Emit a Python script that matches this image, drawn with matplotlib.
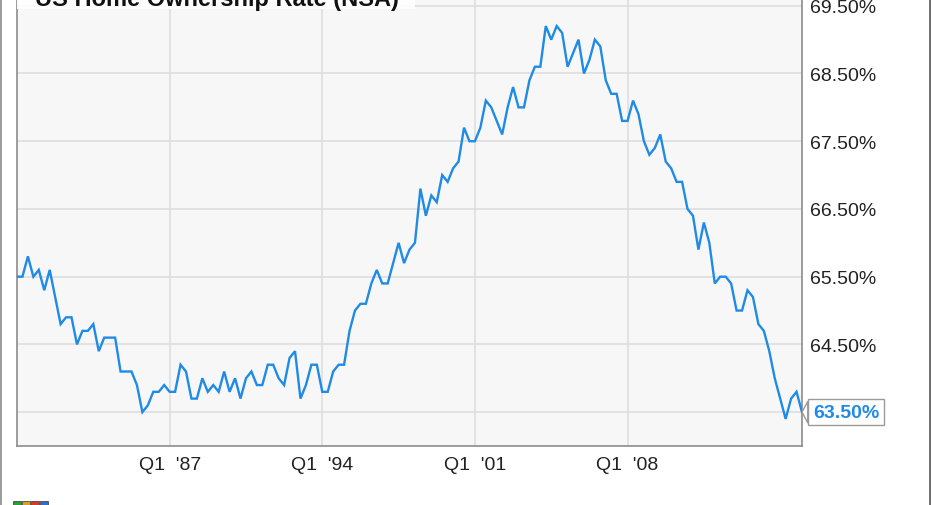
import matplotlib
matplotlib.use("Agg")
import matplotlib.pyplot as plt
import numpy as np
from matplotlib.lines import Line2D
from matplotlib.patches import Rectangle

plt.rcParams['font.family'] = ['Liberation Sans', 'DejaVu Sans']

# US home ownership rate, quarterly, 1980 Q1 .. 2016 Q1
start_year = 1980
rate = [65.5, 65.5, 65.8, 65.5,  65.6, 65.3, 65.6, 65.2,  64.8, 64.9, 64.9, 64.5,
        64.7, 64.7, 64.8, 64.4,  64.6, 64.6, 64.6, 64.1,  64.1, 64.1, 63.9, 63.5,
        63.6, 63.8, 63.8, 63.9,  63.8, 63.8, 64.2, 64.1,  63.7, 63.7, 64.0, 63.8,
        63.9, 63.8, 64.1, 63.8,  64.0, 63.7, 64.0, 64.1,  63.9, 63.9, 64.2, 64.2,
        64.0, 63.9, 64.3, 64.4,  63.7, 63.9, 64.2, 64.2,  63.8, 63.8, 64.1, 64.2,
        64.2, 64.7, 65.0, 65.1,  65.1, 65.4, 65.6, 65.4,  65.4, 65.7, 66.0, 65.7,
        65.9, 66.0, 66.8, 66.4,  66.7, 66.6, 67.0, 66.9,  67.1, 67.2, 67.7, 67.5,
        67.5, 67.7, 68.1, 68.0,  67.8, 67.6, 68.0, 68.3,  68.0, 68.0, 68.4, 68.6,
        68.6, 69.2, 69.0, 69.2,  69.1, 68.6, 68.8, 69.0,  68.5, 68.7, 69.0, 68.9,
        68.4, 68.2, 68.2, 67.8,  67.8, 68.1, 67.9, 67.5,  67.3, 67.4, 67.6, 67.2,
        67.1, 66.9, 66.9, 66.5,  66.4, 65.9, 66.3, 66.0,  65.4, 65.5, 65.5, 65.4,
        65.0, 65.0, 65.3, 65.2,  64.8, 64.7, 64.4, 64.0,  63.7, 63.4, 63.7, 63.8,
        63.5]
x_ticks = [1987, 1994, 2001, 2008]
x_ticklabels = ["Q1  '87", "Q1  '94", "Q1  '01", "Q1  '08"]
y_ticks = [63.5, 64.5, 65.5, 66.5, 67.5, 68.5, 69.5]
title = "US Home Ownership Rate (NSA)"

t = start_year + np.arange(len(rate)) / 4.0
blue = '#1f8be6'

W, H = 931, 506
fig = plt.figure(figsize=(W / 100, H / 100), dpi=100)
fig.patch.set_facecolor('white')
ax = fig.add_axes([17 / W, (H - 447) / H, (802 - 17) / W, 447 / H])
ax.set_facecolor('#f7f7f7')

ax.plot(t, rate, color=blue, lw=1.7, zorder=3, solid_joinstyle='miter')

ax.set_xlim(t[0], t[-1])
ax.set_ylim(63.0, 69.6)
ax.set_xticks(x_ticks)
ax.set_xticklabels(x_ticklabels)
ax.set_yticks(y_ticks)
# the lowest label sits under the last-value callout
ax.set_yticklabels(['' if v == rate[-1] else '%.2f%%' % v for v in y_ticks])
ax.yaxis.tick_right()
ax.tick_params(axis='both', length=0, labelsize=14, colors='#222222')
ax.tick_params(axis='x', pad=7)
ax.tick_params(axis='y', pad=6)
ax.grid(True, color='#dcdcdc', lw=1.1, zorder=0)
ax.set_axisbelow(True)
for s in ['left', 'bottom', 'right']:
    ax.spines[s].set_color('#8c8c8c')
    ax.spines[s].set_linewidth(1.2)
ax.spines['top'].set_visible(False)

# last value callout
ax.annotate('%.2f%%' % rate[-1], xy=(t[-1], rate[-1]), xytext=(8, 0),
            textcoords='offset points', ha='left', va='center',
            fontsize=14, fontweight='bold', color=blue, zorder=10,
            annotation_clip=False,
            bbox=dict(boxstyle='square,pad=0.25', fc='white', ec='#9a9a9a', lw=1),
            arrowprops=dict(arrowstyle='wedge,tail_width=1.1,shrink_factor=0.5',
                            fc='white', ec='#9a9a9a', lw=1, shrinkA=0, shrinkB=0))

# title box at top (cropped)
ax.add_patch(Rectangle((0, 1 - 10 / 447), (415 - 17) / (802 - 17), 10 / 447,
                       transform=ax.transAxes, fc='white', ec='none',
                       alpha=0.9, zorder=5, clip_on=False))
fig.text(35 / W, 1 - 6 / H, title, fontsize=17, fontweight='bold',
         color='#111111', ha='left', va='baseline', zorder=6)

# frame lines of the image
fig.add_artist(Line2D([1 / W, 1 / W], [0, 1], color='#8a8a8a', lw=1.2))
fig.add_artist(Line2D([930 / W, 930 / W], [0, 1], color='#555555', lw=1.2))

# small logo at bottom left
logo_cols = ['#2a9d3a', '#d8a21a', '#d23a2a', '#2a6fd0']
for i, c in enumerate(logo_cols):
    fig.add_artist(Rectangle(((13 + i * 9) / W, 0), 8 / W, 4 / H,
                             transform=fig.transFigure, fc=c, ec='#333333', lw=0.5))

fig.savefig('out.png', dpi=100)
